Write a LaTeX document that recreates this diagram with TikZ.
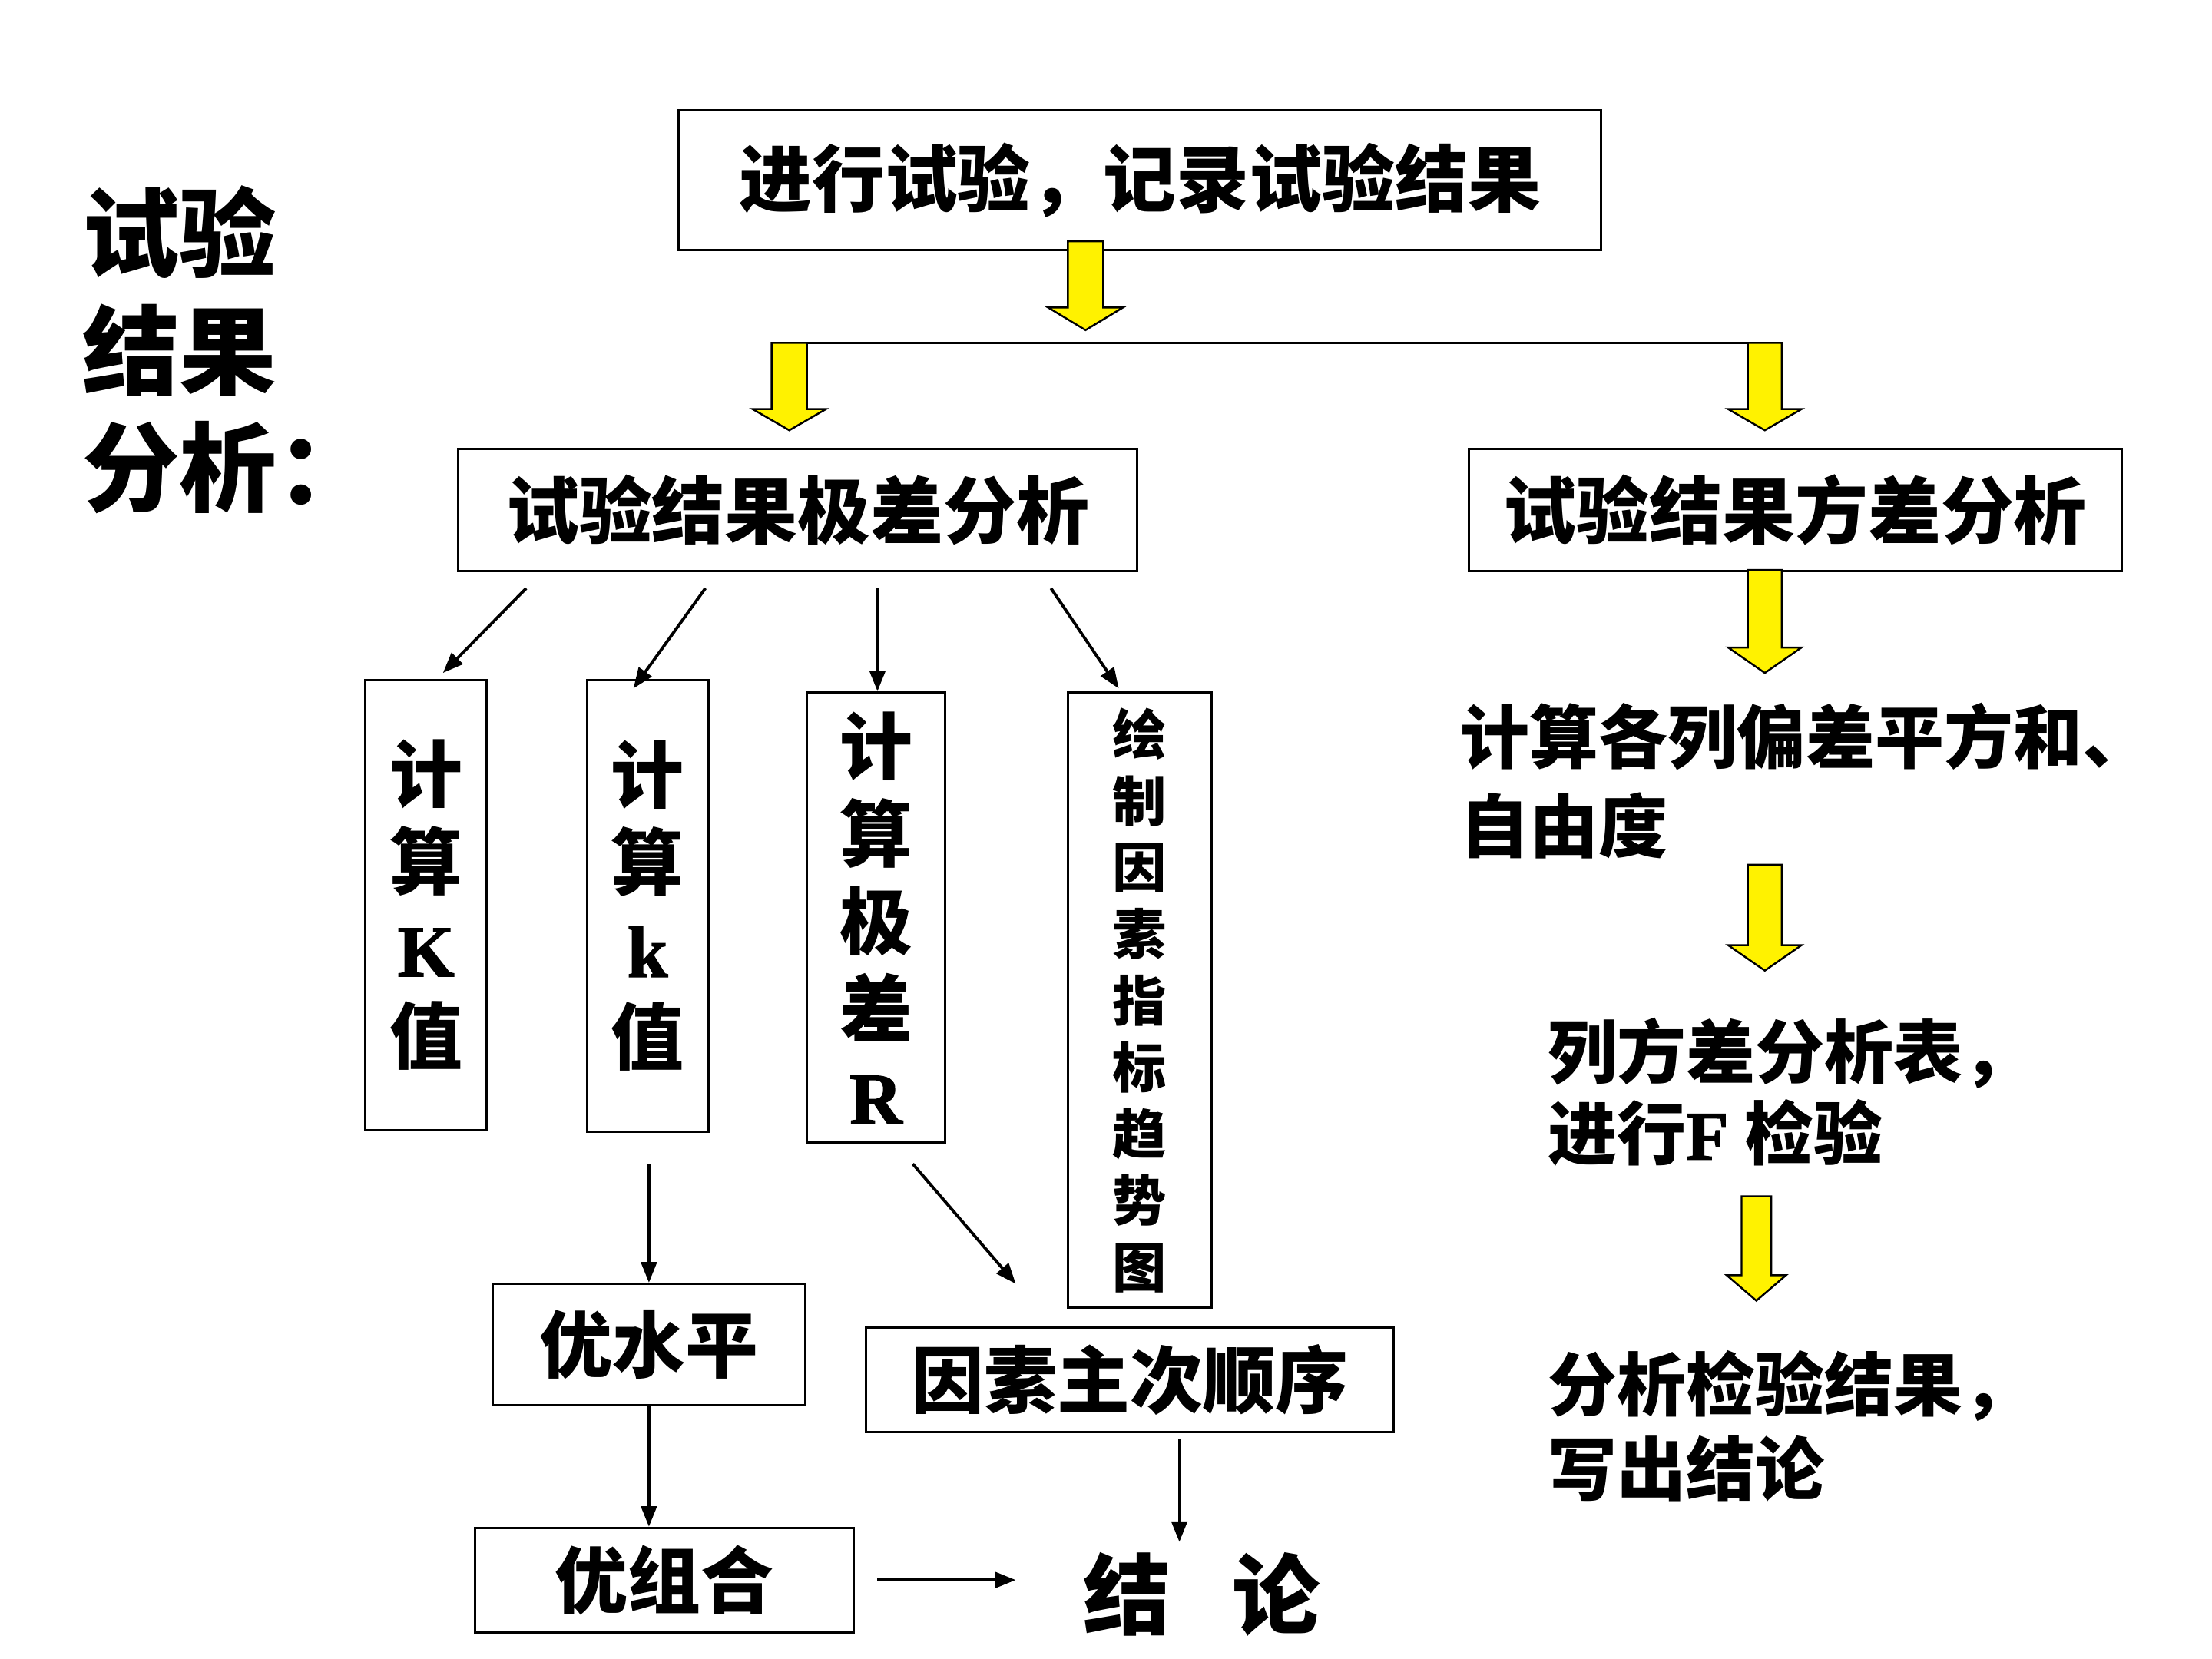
\documentclass[tikz,border=0pt]{standalone}
\usepackage{fontspec}
\newfontfamily\cjk{Noto Sans CJK SC}
\newfontfamily\latbf{Liberation Serif Bold}[FakeBold=1.6]
\usetikzlibrary{arrows.meta}
\tikzset{
  box/.style={draw, line width=0.85pt, rectangle, inner sep=0pt},
  bx/.style 2 args={minimum width=#1*0.018367cm, minimum height=#2*0.018367cm},
  tx/.style={font=\cjk\bfseries\fontsize{27}{32.4}\selectfont, align=center},
  rtx/.style={font=\cjk\bfseries\fontsize{25.6}{33}\selectfont, align=left, inner sep=0pt, anchor=west},
  conn/.style={line width=1.1pt, -{Triangle[length=7.6pt,width=5.8pt]}},
  yarrow/.style={draw=black, line width=0.7pt, fill=yellow, line join=miter},
}
\newcommand\latb[1]{{\latbf\mdseries #1}}
% yellow block arrow: cx, ytop, ybase, ytip, shaft half width, head half width
\newcommand\yarr[6]{%
  \filldraw[yarrow] (#1-#5,#2) -- (#1+#5,#2) -- (#1+#5,#3) -- (#1+#6,#3)
    -- (#1,#4) -- (#1-#6,#3) -- (#1-#5,#3) -- cycle;}
\begin{document}
\begin{tikzpicture}[x=0.018367cm, y=-0.018367cm]
\fill[white] (0,0) rectangle (1568,1176);
\useasboundingbox (0,0) rectangle (1568,1176);

% title
\node[font=\cjk\bfseries\fontsize{36}{43.4}\selectfont, align=left, anchor=west, inner sep=0pt] (title) at (58,248) {试验\\结果\\分析：};

% boxes
\node[box, tx, bx={654}{99}] (top) at (808,127.5) {进行试验，记录试验结果};
\node[box, tx, bx={481}{87}] (jicha) at (565.5,361.5) {试验结果极差分析};
\node[box, tx, bx={463}{87}] (fangcha) at (1272.5,361.5) {试验结果方差分析};
\node[box, tx, bx={86}{319}] (kK) at (302,641.5) {计\\算\\\latb{K}\\值};
\node[box, tx, bx={86}{320}] (kk) at (459,642) {计\\算\\\latb{k}\\值};
\node[box, tx, bx={98}{319}] (kR) at (621,650.5) {计\\算\\极\\差\\\latb{R}};
\node[box, font=\cjk\bfseries\fontsize{20}{24.7}\selectfont, align=center, bx={102}{436}] (trend) at (808,709) {绘\\制\\因\\素\\指\\标\\趋\\势\\图};
\node[box, tx, bx={222}{86}] (you) at (460,953) {优水平};
\node[box, tx, bx={374}{74}] (order) at (801,978) {因素主次顺序};
\node[box, tx, bx={268}{74}] (combo) at (471,1120) {优组合};
\node[font=\cjk\bfseries\fontsize{32.5}{39}\selectfont, inner sep=0pt] (concl) at (852,1130) {结\hspace{0.7em}论};

% right column texts
\node[rtx] (ss) at (1035,553.5) {计算各列偏差平方和、\\自由度};
\node[rtx, font=\cjk\bfseries\fontsize{25.6}{30.3}\selectfont] (ftest) at (1097,774) {列方差分析表，\\进行\latb{F} 检验};
\node[rtx, font=\cjk\bfseries\fontsize{25.6}{31.4}\selectfont] (result) at (1097,1011) {分析检验结果，\\写出结论};

% branch line and yellow arrows
\coordinate (brL) at (547,243);
\coordinate (brR) at (1263,243);
\draw[line width=0.85pt] (brL) -- (brR);
\yarr{769.5}{171}{218}{234}{12.5}{26.5}
\yarr{559.5}{243}{290}{305}{12.5}{26}
\yarr{1251}{243}{290}{305}{12}{26}
\yarr{1251}{404}{459}{477}{12}{26}
\yarr{1251}{613}{670}{688}{12}{26}
\yarr{1245}{848}{904}{922}{10.5}{21}

% thin connectors
\coordinate (s1) at (373,417); \coordinate (e1) at (314,477);
\coordinate (s2) at (500,417); \coordinate (e2) at (449,488);
\coordinate (s3) at (622,417); \coordinate (e3) at (622,490);
\coordinate (s4) at (745,417); \coordinate (e4) at (793,488);
\coordinate (s5) at (460,825);
\coordinate (s6) at (647,825); \coordinate (e6) at (720,910);
\coordinate (s8) at (836,1020); \coordinate (e8) at (836,1093);
\coordinate (s9) at (622,1120); \coordinate (e9) at (720,1120);
\draw[conn] (s1) -- (e1);
\draw[conn] (s2) -- (e2);
\draw[conn] (s3) -- (e3);
\draw[conn] (s4) -- (e4);
\draw[conn] (s5) -- (s5 |- you.north);
\draw[conn] (s6) -- (e6);
\draw[conn] (you.south) -- (you.south |- combo.north);
\draw[conn] (s8) -- (e8);
\draw[conn] (s9) -- (e9);
\end{tikzpicture}
\end{document}
